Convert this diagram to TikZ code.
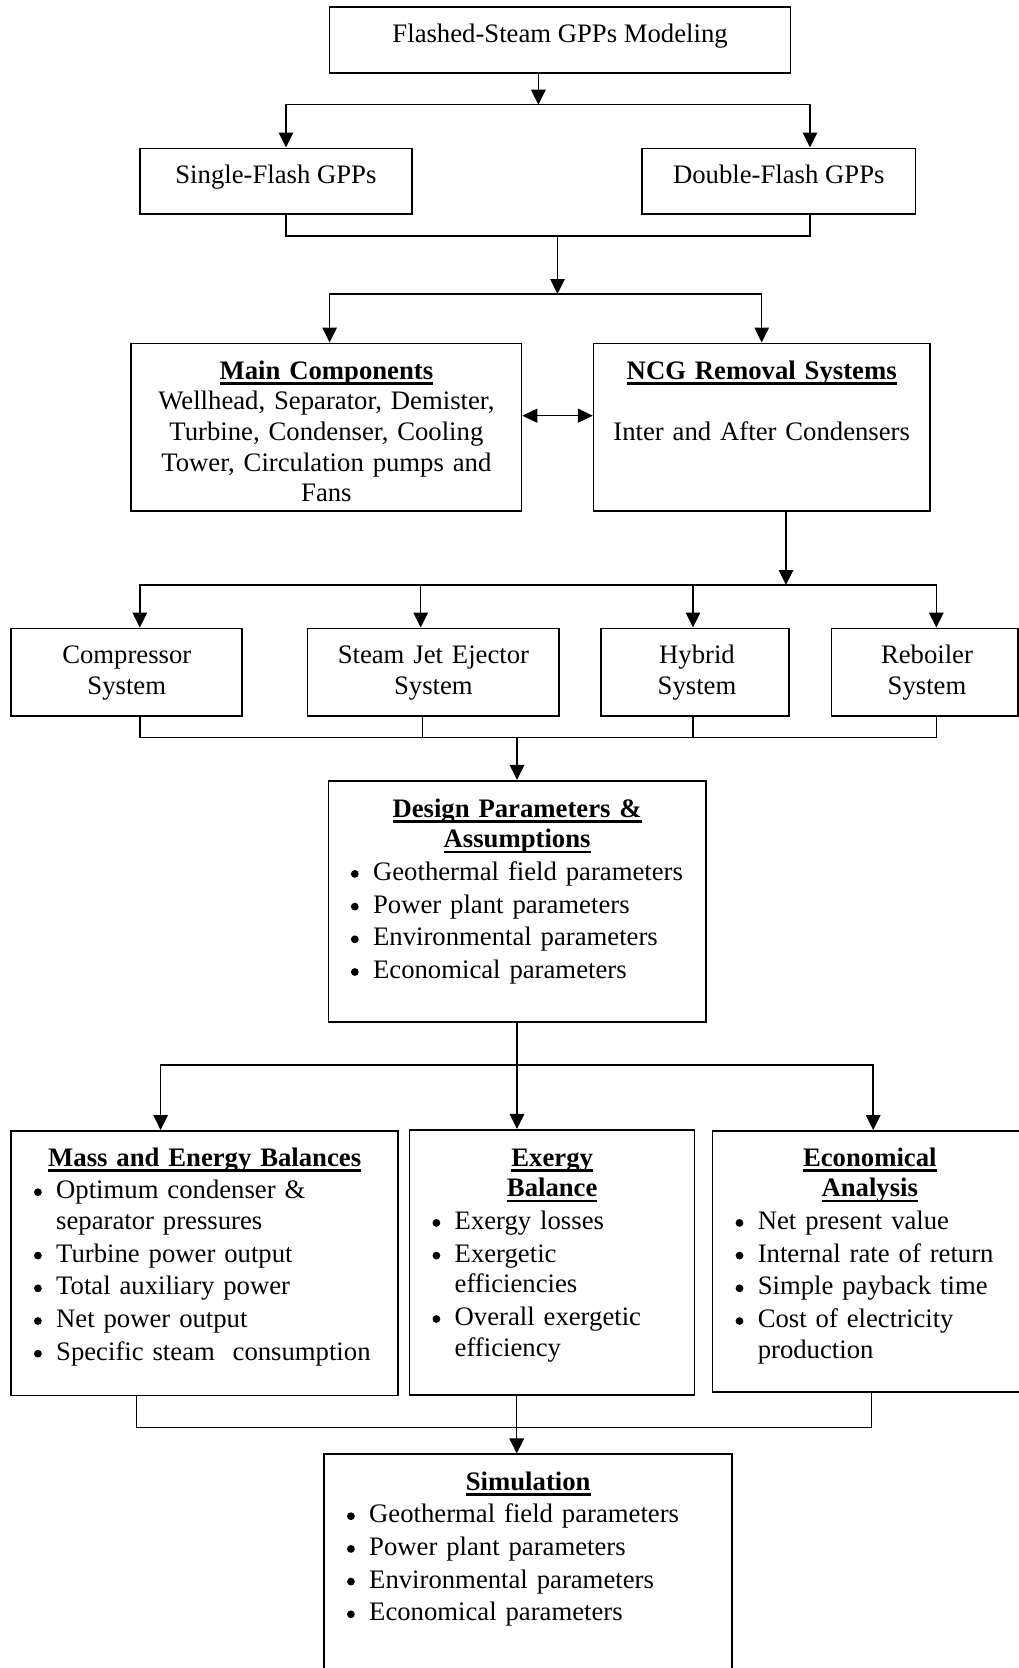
\documentclass[tikz,border=0pt]{standalone}
\usepackage{fontspec}
\setmainfont{Liberation Serif}
\usetikzlibrary{arrows.meta}
% underlined bold heading inside a box
\newcommand{\ttl}[1]{\leavevmode{\setbox0=\hbox{\bfseries #1}%
  \rlap{\vrule width\wd0 height-3.1pt depth5.5pt}\box0}}
% round bullet mark
\newcommand{\dotmark}{\tikz[baseline=0pt]\fill (0pt,6.5pt) circle[radius=3.9pt];}
% bullet item with hanging indent
\newcommand{\itm}[1]{\par\setlength{\parskip}{2pt}\hangindent=23pt\hangafter=1%
  \noindent\makebox[23pt][l]{\hspace{0.8pt}\dotmark}#1}

\begin{document}
\begin{tikzpicture}[x=1pt, y=-1pt,
    >={Triangle[length=15pt,width=14.5pt]},
    box/.style 2 args={draw, line width=1.7pt, minimum width=#1,
                       minimum height=#2, inner sep=0pt},
    txt/.style={font=\fontsize{26.7}{30.7}\selectfont, inner sep=0pt},
    ctr/.style={txt, text width=#1, align=center, anchor=base},
    lst/.style={txt, text width=#1, align=left, anchor=base west},
    link/.style={line width=1.5pt},
  ]
  \useasboundingbox (0,0) rectangle (1019,1668);

  % --- boxes ---
  \node[box={461pt}{66pt}]       (flash)  at (560.1,39.7)  {};
  \node[box={272.2pt}{65.7pt}]   (single) at (275.9,181.2) {};
  \node[box={273.5pt}{65.7pt}]   (double) at (778.8,181.2) {};
  \node[box={390.2pt}{167.7pt}]  (main)   at (326.4,427.2) {};
  \node[box={336.2pt}{167.7pt}]  (ncg)    at (761.7,427.2) {};
  \node[box={230.9pt}{87.7pt}]   (comp)   at (126.5,672.2) {};
  \node[box={251.7pt}{87.7pt}]   (jet)    at (433.4,672.2) {};
  \node[box={188.5pt}{87.7pt}]   (hybrid) at (695,672.2)   {};
  \node[box={186.4pt}{87.7pt}]   (reboil) at (924.8,672.2) {};
  \node[box={377.6pt}{241.3pt}]  (design) at (517.2,901.4) {};
  \node[box={387pt}{264.7pt}]    (mass)   at (204.5,1263.2) {};
  \node[box={284.9pt}{265.6pt}]  (exergy) at (552,1262.5)  {};
  \node[box={314.4pt}{260.9pt}]  (econ)   at (869.8,1261.3) {};
  \node[box={408.2pt}{235.4pt}]  (sim)    at (527.9,1572)  {};

  % --- texts ---
  \node[txt, anchor=base] (flash-t)  at (560.1,42.5) {Flashed-Steam GPPs Modeling};
  \node[txt, anchor=base] (single-t) at (275.9,183)  {Single-Flash GPPs};
  \node[txt, anchor=base] (double-t) at (778.8,183)  {Double-Flash GPPs};

  \node[ctr=380pt] (main-t) at (326.4,379)
    {\ttl{Main Components}\\ Wellhead, Separator, Demister,\\
     Turbine, Condenser, Cooling\\ Tower, Circulation pumps and\\ Fans};
  \node[ctr=326pt] (ncg-t) at (761.7,379)
    {\ttl{NCG Removal Systems}\\[30.7pt] Inter and After Condensers};

  \node[ctr=220pt] (comp-t)   at (126.8,663.5) {Compressor\\ System};
  \node[ctr=240pt] (jet-t)    at (433.4,663.5) {Steam Jet Ejector\\ System};
  \node[ctr=178pt] (hybrid-t) at (697,663.5)   {Hybrid\\ System};
  \node[ctr=176pt] (reboil-t) at (927,663.5)   {Reboiler\\ System};

  \node[lst=334pt] (design-t) at (349.9,817)
    {{\centering\ttl{Design Parameters \&}\par\ttl{Assumptions}\par}
     \itm{Geothermal field parameters}
     \itm{Power plant parameters}
     \itm{Environmental parameters}
     \itm{Economical parameters}\par};

  \node[lst=343pt] (mass-t) at (33,1166)
    {{\centering\ttl{Mass and Energy Balances}\par}
     \itm{Optimum condenser \&\newline separator pressures}
     \itm{Turbine power output}
     \itm{Total auxiliary power}
     \itm{Net power output}
     \itm{Specific steam~~consumption}\par};

  \node[lst=241pt] (exergy-t) at (431.5,1166)
    {{\centering\ttl{Exergy}\par\ttl{Balance}\par}
     \itm{Exergy losses}
     \itm{Exergetic\newline efficiencies}
     \itm{Overall exergetic\newline efficiency}\par};

  \node[lst=270pt] (econ-t) at (734.6,1166)
    {{\centering\ttl{Economical}\par\ttl{Analysis}\par}
     \itm{Net present value}
     \itm{Internal rate of return}
     \itm{Simple payback time}
     \itm{Cost of electricity\newline production}\par};

  \node[lst=364pt] (sim-t) at (346,1490)
    {{\centering\ttl{Simulation}\par}
     \itm{Geothermal field parameters}
     \itm{Power plant parameters}
     \itm{Environmental parameters}
     \itm{Economical parameters}\par};

  % --- junctions ---
  \coordinate (forkA) at (538.4,104.7);
  \coordinate (joinA) at (557.5,236);
  \coordinate (forkB) at (557.5,294);
  \coordinate (forkC) at (786,585);
  \coordinate (joinC) at (517,737.3);
  \coordinate (forkD) at (517,1065);
  \coordinate (joinD) at (516.7,1427.3);

  % --- connectors ---
  \draw[link,->] (forkA |- flash.south) -- (forkA);
  \draw[link,->] (forkA) -| ([xshift=10.1pt]single.north);
  \draw[link,->] (forkA) -| ([xshift=31.2pt]double.north);

  \draw[link] ([xshift=10.1pt]single.south) |- (joinA) -| ([xshift=31.2pt]double.south);
  \draw[link,->] (joinA) -- (forkB);
  \draw[link,->] (forkB) -| ([xshift=3.2pt]main.north);
  \draw[link,->] (forkB) -| (ncg.north);
  \draw[link,<->,>={Triangle[length=15pt,width=14pt]}]
    ([yshift=11.5pt]main.east) -- ([yshift=11.5pt]ncg.west);

  \draw[link,->] (forkC |- ncg.south) -- (forkC);
  \draw[link,->] (forkC) -| ([xshift=13.3pt]comp.north);
  \draw[link,->] (forkC) -| ([xshift=-12.7pt]jet.north);
  \draw[link,->] (forkC) -| ([xshift=-2pt]hybrid.north);
  \draw[link,->] (forkC) -| ([xshift=11.5pt]reboil.north);

  \draw[link] ([xshift=13.3pt]comp.south) |- (joinC) -| ([xshift=11.5pt]reboil.south);
  \draw[link] ([xshift=-10.8pt]jet.south) |- (joinC);
  \draw[link] ([xshift=-2pt]hybrid.south) |- (joinC);
  \draw[link,->] (joinC) -- (joinC |- design.north);

  \draw[link] (forkD |- design.south) -- (forkD);
  \draw[link,->] (forkD) -| ([xshift=-43.9pt]mass.north);
  \draw[link,->] (forkD) -- (forkD |- exergy.north);
  \draw[link,->] (forkD) -| ([xshift=3.4pt]econ.north);

  \draw[link] ([xshift=-67.8pt]mass.south) |- (joinD) -| ([xshift=1.5pt]econ.south);
  \draw[link,->] (joinD |- exergy.south) -- (joinD |- sim.north);

\end{tikzpicture}
\end{document}
